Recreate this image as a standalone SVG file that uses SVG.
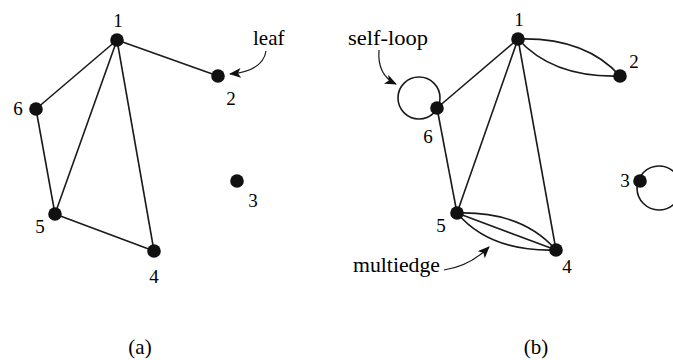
<svg xmlns="http://www.w3.org/2000/svg" width="673" height="360" viewBox="0 0 673 360">
<style>
.e{fill:none;stroke:#1a1a1a;stroke-width:1.6}
.a{fill:none;stroke:#1a1a1a;stroke-width:1.2}
.n{fill:#111}
</style>
<defs>
<marker id="ah" viewBox="0 0 12 10" refX="11" refY="5" markerWidth="12" markerHeight="10" markerUnits="userSpaceOnUse" orient="auto">
<path d="M0,0 L12,5 L0,10 L3,5 z" fill="#111"/>
</marker>
</defs>
<rect width="673" height="360" fill="#fff"/>
<g id="connectors">
<line class="e" x1="117" y1="40" x2="218" y2="76"/>
<line class="e" x1="117" y1="40" x2="36" y2="109"/>
<line class="e" x1="117" y1="40" x2="55" y2="214"/>
<line class="e" x1="117" y1="40" x2="154" y2="251"/>
<line class="e" x1="36" y1="109" x2="55" y2="214"/>
<line class="e" x1="55" y1="214" x2="154" y2="251"/>
<line class="e" x1="518" y1="39" x2="437" y2="108"/>
<line class="e" x1="518" y1="39" x2="457" y2="213"/>
<line class="e" x1="518" y1="39" x2="556" y2="250"/>
<line class="e" x1="437" y1="108" x2="457" y2="213"/>
<path class="e" d="M518,39 Q585,37 620,76"/>
<path class="e" d="M518,39 Q553,78 620,76"/>
<line class="e" x1="457" y1="213" x2="556" y2="250"/>
<path class="e" d="M457,213 Q522,211 556,250"/>
<path class="e" d="M457,213 Q490,252 556,250"/>
<circle class="e" cx="419" cy="98" r="21"/>
<circle class="e" cx="659" cy="188" r="22"/>
<path class="a" d="M266,51 Q263,71 230,74" marker-end="url(#ah)"/>
<path class="a" d="M379,50 Q377,75 396,84" marker-end="url(#ah)"/>
<path class="a" d="M444,270 Q470,266 489,247" marker-end="url(#ah)"/>
</g>
<g id="graph-a">
<g id="a1"><circle class="n" cx="117" cy="40" r="6.8"/><text font-family="Liberation Serif" font-size="19" text-anchor="middle" x="118" y="27">1</text></g>
<g id="a2"><circle class="n" cx="218" cy="76" r="6.8"/><text font-family="Liberation Serif" font-size="19" text-anchor="middle" x="231" y="105">2</text></g>
<g id="a3"><circle class="n" cx="237" cy="181" r="6.8"/><text font-family="Liberation Serif" font-size="19" text-anchor="middle" x="253" y="207">3</text></g>
<g id="a4"><circle class="n" cx="154" cy="251" r="6.8"/><text font-family="Liberation Serif" font-size="19" text-anchor="middle" x="154" y="283">4</text></g>
<g id="a5"><circle class="n" cx="55" cy="214" r="6.8"/><text font-family="Liberation Serif" font-size="19" text-anchor="middle" x="40" y="233">5</text></g>
<g id="a6"><circle class="n" cx="36" cy="109" r="6.8"/><text font-family="Liberation Serif" font-size="19" text-anchor="middle" x="18" y="115">6</text></g>
<g id="leaf-label"><text font-family="Liberation Serif" font-size="21" x="253" y="45">leaf</text></g>
<g id="cap-a"><text font-family="Liberation Serif" font-size="21" text-anchor="middle" x="140" y="354">(a)</text></g>
</g>
<g id="graph-b">
<g id="b1"><circle class="n" cx="518" cy="39" r="6.8"/><text font-family="Liberation Serif" font-size="19" text-anchor="middle" x="519" y="26">1</text></g>
<g id="b2"><circle class="n" cx="620" cy="76" r="6.8"/><text font-family="Liberation Serif" font-size="19" text-anchor="middle" x="634" y="68">2</text></g>
<g id="b3"><circle class="n" cx="640" cy="181" r="6.8"/><text font-family="Liberation Serif" font-size="19" text-anchor="middle" x="625" y="187">3</text></g>
<g id="b4"><circle class="n" cx="556" cy="250" r="6.8"/><text font-family="Liberation Serif" font-size="19" text-anchor="middle" x="567" y="273">4</text></g>
<g id="b5"><circle class="n" cx="457" cy="213" r="6.8"/><text font-family="Liberation Serif" font-size="19" text-anchor="middle" x="441" y="232">5</text></g>
<g id="b6"><circle class="n" cx="437" cy="108" r="6.8"/><text font-family="Liberation Serif" font-size="19" text-anchor="middle" x="428" y="143">6</text></g>
<g id="selfloop-label"><text font-family="Liberation Serif" font-size="21" x="348" y="45" textLength="80" lengthAdjust="spacingAndGlyphs">self-loop</text></g>
<g id="multiedge-label"><text font-family="Liberation Serif" font-size="21" x="353" y="272" textLength="87" lengthAdjust="spacingAndGlyphs">multiedge</text></g>
<g id="cap-b"><text font-family="Liberation Serif" font-size="21" text-anchor="middle" x="536" y="354">(b)</text></g>
</g>
</svg>
